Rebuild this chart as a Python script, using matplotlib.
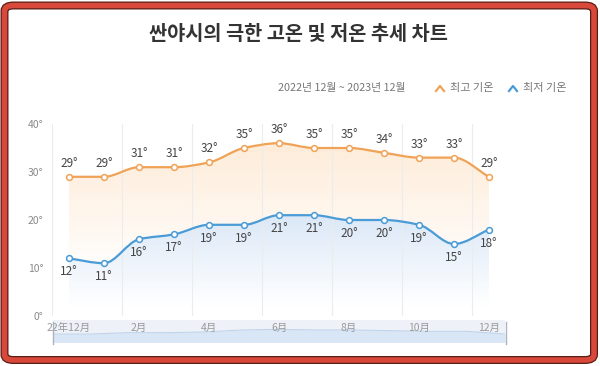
import numpy as np
import matplotlib
matplotlib.use('Agg')
import matplotlib.pyplot as plt
from matplotlib.path import Path
from matplotlib.patches import PathPatch, FancyBboxPatch
from matplotlib.lines import Line2D

plt.rcParams['font.family'] = ['Noto Sans CJK KR', 'DejaVu Sans']

# data
months = ['22年12月', '1月', '2月', '3月', '4月', '5月', '6月',
          '7月', '8月', '9月', '10月', '11月', '12月']
high_temp = [29, 29, 31, 31, 32, 35, 36, 35, 35, 34, 33, 33, 29]
low_temp = [12, 11, 16, 17, 19, 19, 21, 21, 20, 20, 19, 15, 18]
y_ticks = [0, 10, 20, 30, 40]

title = '싼야시의 극한 고온 및 저온 추세 차트'
period = '2022년 12월 ~ 2023년 12월'
names = ['최고 기온', '최저 기온']
c_high = '#f0a256'
c_low = '#4a9bd6'

W, H = 600, 366
fig = plt.figure(figsize=(6, 3.66), dpi=100)
fig.patch.set_facecolor('white')


def px(x, y):
    return x / W, 1 - y / H


def smooth_path(x, y, base=None):
    # monotone cubic bezier through the points (like echarts smooth line)
    x = np.asarray(x, float)
    y = np.asarray(y, float)
    d = np.diff(y) / np.diff(x)
    m = np.zeros_like(y)
    m[0], m[-1] = d[0], d[-1]
    for i in range(1, len(y) - 1):
        if d[i - 1] * d[i] > 0:
            m[i] = 2 / (1 / d[i - 1] + 1 / d[i])
    verts = [(x[0], y[0])]
    codes = [Path.MOVETO]
    for i in range(len(x) - 1):
        h = x[i + 1] - x[i]
        verts += [(x[i] + h / 3, y[i] + m[i] * h / 3),
                  (x[i + 1] - h / 3, y[i + 1] - m[i + 1] * h / 3),
                  (x[i + 1], y[i + 1])]
        codes += [Path.CURVE4] * 3
    if base is not None:
        verts += [(x[-1], base), (x[0], base), (x[0], y[0])]
        codes += [Path.LINETO, Path.LINETO, Path.CLOSEPOLY]
    return Path(verts, codes)


# main axes
l, b = px(51.5, 316)
r, t = px(506.5, 124)
ax = fig.add_axes([l, b, r - l, t - b])
xs = np.arange(len(months))
ax.set_xlim(-0.5, len(months) - 0.5)
ax.set_ylim(0, 40)
for s in ax.spines.values():
    s.set_visible(False)
ax.set_yticks(y_ticks)
ax.set_yticklabels([f'{v}°' for v in y_ticks], color='#8a8a8a', fontsize=7.5)
ax.set_xticks(xs[::2])
ax.set_xticklabels(months[::2], color='#999999', fontsize=7.5)
ax.tick_params(length=0)
ax.tick_params(axis='x', pad=5)
ax.tick_params(axis='y', pad=6)
for gx in np.arange(-0.5, len(months), 2):
    ax.axvline(gx, color='#ececec', lw=0.8, zorder=2)
ax.axvline(len(months) - 0.5, color='#ececec', lw=0.8, zorder=2)

# gradient fills
def grad_fill(vals, rgb_top, rgb_bot, a_top, a_bot, y_top, y_bot):
    yy = np.linspace(40, 0, 200)
    f = np.clip((yy - y_bot) / (y_top - y_bot), 0, 1)[:, None]
    img = np.zeros((200, 1, 4))
    img[:, 0, :3] = np.array(rgb_bot) + f * (np.array(rgb_top) - np.array(rgb_bot))
    img[:, 0, 3] = (a_bot + f * (a_top - a_bot))[:, 0]
    im = ax.imshow(img, extent=[-0.5, len(months) - 0.5, 0, 40],
                   aspect='auto', zorder=1, interpolation='bilinear')
    patch = PathPatch(smooth_path(xs, vals, base=0), facecolor='none',
                      edgecolor='none', transform=ax.transData)
    ax.add_patch(patch)
    im.set_clip_path(patch)


grad_fill(high_temp, (0.99, 0.82, 0.64), (0.99, 0.82, 0.64), 0.42, 0.0, 36, 8)
grad_fill(low_temp, (0.86, 0.91, 0.97), (1, 1, 1), 1.0, 1.0, 21, 2)

for vals, col, off, va in [(high_temp, c_high, 5, 'bottom'),
                           (low_temp, c_low, -5, 'top')]:
    ax.add_patch(PathPatch(smooth_path(xs, vals), facecolor='none',
                           edgecolor=col, lw=1.6, zorder=3))
    ax.plot(xs, vals, 'o', ms=4.2, mfc='white', mec=col, mew=1.1, zorder=4)
    for xi, v in zip(xs, vals):
        ax.annotate(f'{v}°', (xi, v), xytext=(0, off), textcoords='offset points',
                    ha='center', va=va, fontsize=8.5, color='#444444', zorder=5)

# data zoom slider
l2, b2 = px(53, 342)
r2, t2 = px(505, 320)
ax2 = fig.add_axes([l2, b2, r2 - l2, t2 - b2], zorder=-1)
ax2.set_facecolor('#eef2f8')
ax2.fill_between(xs, high_temp, 0, color='#d3e3f5', alpha=0.8, lw=0)
ax2.plot(xs, high_temp, color='#c0d4ec', lw=0.8)
ax2.set_xlim(0, len(months) - 1)
ax2.set_ylim(min(high_temp) - 12, max(high_temp) + 14)
ax2.set_xticks([])
ax2.set_yticks([])
for s in ax2.spines.values():
    s.set_visible(False)
fig.add_artist(Line2D([53 / W, 53 / W], [1 - 322 / H, 1 - 344 / H], color='#aab4c4', lw=1))
fig.add_artist(Line2D([506 / W, 506 / W], [1 - 322 / H, 1 - 344 / H], color='#aab4c4', lw=1))

# titles and legend
fig.text(*px(298, 34), title, ha='center', va='center', fontsize=14.2,
         color='#333333', fontweight='bold')
fig.text(*px(406, 88), period, ha='right', va='center', fontsize=7.8,
         color='#777777')
for (ix, tx), name, col in zip([(440, 450), (513, 523)], names, [c_high, c_low]):
    fig.add_artist(Line2D([(ix - 4) / W, ix / W, (ix + 4) / W],
                          [1 - 91 / H, 1 - 86 / H, 1 - 91 / H], color=col, lw=1.6))
    fig.text(*px(tx, 88), name, ha='left', va='center', fontsize=8, color='#777777')

# red frame
for lw, col in [(8, '#5a1e16'), (5.5, '#d8493b')]:
    fig.patches.append(FancyBboxPatch((4.5 / W, 6 / H), 589.5 / W, 354.5 / H,
                                      boxstyle='round,pad=0,rounding_size=0.015',
                                      transform=fig.transFigure, facecolor='none',
                                      edgecolor=col, lw=lw * 72 / 100))

fig.savefig('out.png', dpi=100)
